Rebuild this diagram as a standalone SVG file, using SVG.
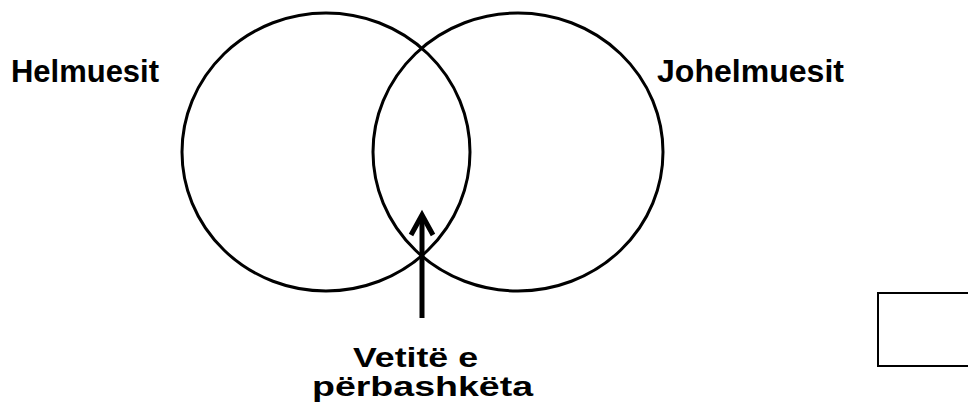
<svg xmlns="http://www.w3.org/2000/svg" width="968" height="407" viewBox="0 0 968 407">
<style>
.c{fill:none;stroke:#000;stroke-width:3}
.t{font-family:"Liberation Sans",Arial,sans-serif;font-weight:bold;fill:#000}
.a{fill:none;stroke:#000;stroke-width:5}
</style>
<rect width="968" height="407" fill="#fff"/>
<g id="helmuesit">
<ellipse class="c" cx="326" cy="152" rx="144" ry="139"/>
<text class="t" x="11" y="82" font-size="30.5" textLength="148" lengthAdjust="spacingAndGlyphs">Helmuesit</text>
</g>
<g id="johelmuesit">
<ellipse class="c" cx="518" cy="152" rx="145" ry="139"/>
<text class="t" x="657" y="82" font-size="30.5" textLength="187" lengthAdjust="spacingAndGlyphs">Johelmuesit</text>
</g>
<g id="vetite">
<text class="t" x="353" y="367" font-size="27" textLength="125" lengthAdjust="spacingAndGlyphs">Vetitë e</text>
<text class="t" x="312" y="396" font-size="27" textLength="221" lengthAdjust="spacingAndGlyphs">përbashkëta</text>
</g>
<g id="box">
<rect x="878" y="293" width="100" height="73" fill="none" stroke="#000" stroke-width="2"/>
</g>
<g id="connectors">
<line class="a" x1="422" y1="318" x2="422" y2="216"/>
<polyline class="a" points="411,235 422,215 433,235" stroke-linejoin="miter"/>
</g>
</svg>
